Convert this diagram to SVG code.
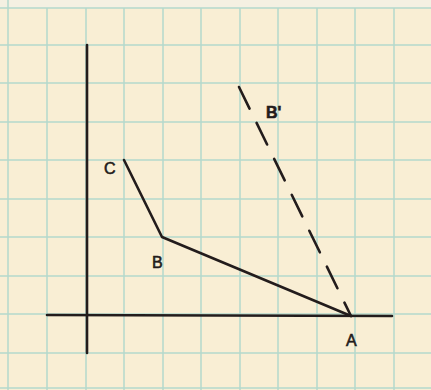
<svg xmlns="http://www.w3.org/2000/svg" width="431" height="390" viewBox="0 0 431 390">
<style>
.grid line{stroke:#b3d8cc;stroke-width:1.5}
.ink{stroke:#231c1c;stroke-width:2.6;fill:none;stroke-linecap:round;stroke-linejoin:round}
.lbl{font-family:"Liberation Sans",Arial,sans-serif;fill:#231c1c;font-size:16px;stroke:#231c1c;stroke-width:0.6}
</style>
<rect width="431" height="390" fill="#f9eed4"/>
<rect width="431" height="8" fill="#f4f0e2"/>
<g class="grid">
<line x1="8" y1="0" x2="8" y2="390"/>
<line x1="47" y1="8" x2="47" y2="390"/>
<line x1="86" y1="8" x2="86" y2="390"/>
<line x1="124" y1="8" x2="124" y2="390"/>
<line x1="163" y1="8" x2="163" y2="390"/>
<line x1="201" y1="8" x2="201" y2="390"/>
<line x1="240" y1="8" x2="240" y2="390"/>
<line x1="278" y1="8" x2="278" y2="390"/>
<line x1="317" y1="8" x2="317" y2="390"/>
<line x1="355" y1="8" x2="355" y2="390"/>
<line x1="394" y1="8" x2="394" y2="390"/>
<line x1="0" y1="8" x2="431" y2="8"/>
<line x1="0" y1="45" x2="431" y2="45"/>
<line x1="0" y1="83" x2="431" y2="83"/>
<line x1="0" y1="122" x2="431" y2="122"/>
<line x1="0" y1="160" x2="431" y2="160"/>
<line x1="0" y1="199" x2="431" y2="199"/>
<line x1="0" y1="237" x2="431" y2="237"/>
<line x1="0" y1="276" x2="431" y2="276"/>
<line x1="0" y1="314" x2="431" y2="314"/>
<line x1="0" y1="353" x2="431" y2="353"/>
<line x1="0" y1="388" x2="431" y2="388"/>
</g>
<g id="axes">
<line class="ink" x1="87" y1="45" x2="87" y2="353"/>
<line class="ink" x1="47" y1="315" x2="392" y2="316"/>
</g>
<g id="connectors">
<polyline class="ink" points="124,160 162,237 351,316"/>
<line class="ink" x1="239" y1="87" x2="351" y2="316" stroke-dasharray="24,16"/>
</g>
<g id="C"><text class="lbl" x="104" y="174">C</text></g>
<g id="B"><text class="lbl" x="152" y="268">B</text></g>
<g id="Bp"><text class="lbl" x="266" y="118" font-size="14" font-weight="bold">B'</text></g>
<g id="A"><text class="lbl" x="346" y="346">A</text></g>
</svg>
